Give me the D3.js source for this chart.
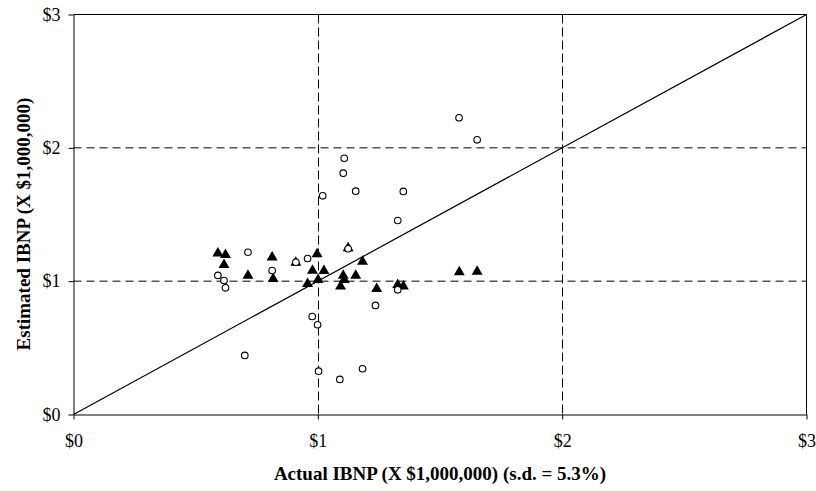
<!DOCTYPE html>
<html>
<head>
<meta charset="utf-8">
<script src="https://cdn.jsdelivr.net/npm/d3@7"></script>
<style>
  html, body { margin: 0; padding: 0; background: #fff; }
  svg { display: block; }
</style>
</head>
<body>
<svg id="chart" width="816" height="491"></svg>
<script>
// Axis ticks (millions of dollars)
const xTicks = [0, 1, 2, 3];
const yTicks = [0, 1, 2, 3];
const tickLabels = ["$0", "$1", "$2", "$3"];
const xTitle = "Actual IBNP (X $1,000,000) (s.d. = 5.3%)";
const yTitle = "Estimated IBNP (X $1,000,000)";

// Series 1: open circles (actual, estimated)
const circleActual = [0.591, 0.616, 0.622, 0.714, 0.813, 0.910, 0.958, 1.124, 1.108, 1.104, 1.155, 1.020,
  0.977, 0.999, 1.236, 1.003, 1.090, 1.183, 0.701, 1.578, 1.652, 1.350, 1.327, 1.327];
const circleEstimated = [1.043, 1.005, 0.950, 1.217, 1.080, 1.142, 1.170, 1.243, 1.922, 1.810, 1.675, 1.640,
  0.735, 0.673, 0.818, 0.325, 0.263, 0.343, 0.443, 2.225, 2.060, 1.673, 1.455, 0.935];

// Series 2: filled triangles (actual, estimated)
const triActual = [0.591, 0.622, 0.616, 0.714, 0.813, 0.817, 0.910, 0.997, 0.978, 1.025, 0.958, 1.001,
  1.124, 1.104, 1.108, 1.155, 1.093, 1.183, 1.241, 1.327, 1.350, 1.579, 1.652];
const triEstimated = [1.217, 1.205, 1.130, 1.050, 1.187, 1.025, 1.147, 1.210, 1.087, 1.085, 0.988, 1.018,
  1.255, 1.050, 1.018, 1.050, 0.968, 1.155, 0.950, 0.980, 0.968, 1.075, 1.080];

// Reference line y = x
const diagonal = [0, 3];

const svg = d3.select("#chart");
const mLeft = 73.5, mRight = 806.5, mTop = 14.5, mBottom = 414.5;

const x = d3.scaleLinear().domain([0, 3]).range([mLeft, mRight]);
const y = d3.scaleLinear().domain([0, 3]).range([mBottom, mTop]);

const serif = "'Liberation Serif', 'Times New Roman', serif";

// Gridlines (dashed) at interior ticks
const g = svg.append("g");
g.selectAll(".vgrid").data(xTicks.slice(1, -1)).enter().append("line")
  .attr("x1", d => Math.round(x(d)) + 0.5).attr("x2", d => Math.round(x(d)) + 0.5)
  .attr("y1", mTop).attr("y2", mBottom)
  .attr("stroke", "#000").attr("stroke-width", 1).attr("stroke-dasharray", "9,4");
g.selectAll(".hgrid").data(yTicks.slice(1, -1)).enter().append("line")
  .attr("x1", mLeft).attr("x2", mRight)
  .attr("y1", d => y(d)).attr("y2", d => y(d))
  .attr("stroke", "#000").attr("stroke-width", 1).attr("stroke-dasharray", "8,5");

// Top and right frame
svg.append("line").attr("x1", mLeft).attr("x2", mRight).attr("y1", mTop).attr("y2", mTop)
  .attr("stroke", "#000").attr("stroke-width", 1);
svg.append("line").attr("x1", mRight).attr("x2", mRight).attr("y1", mTop).attr("y2", mBottom)
  .attr("stroke", "#000").attr("stroke-width", 1);

// Axes
const xAxis = d3.axisBottom(x).tickValues(xTicks).tickFormat((d, i) => tickLabels[i])
  .tickSizeInner(5).tickSizeOuter(0).tickPadding(15);
const yAxis = d3.axisLeft(y).tickValues(yTicks).tickFormat((d, i) => tickLabels[i])
  .tickSizeInner(5).tickSizeOuter(0).tickPadding(8);

const gx = svg.append("g").attr("transform", `translate(0,${mBottom})`).call(xAxis);
const gy = svg.append("g").attr("transform", `translate(${mLeft},0)`).call(yAxis);
[gx, gy].forEach(a => {
  a.selectAll("path, line").attr("stroke", "#000").attr("stroke-width", 1);
  a.selectAll("text").attr("font-family", serif).attr("font-size", 18).attr("fill", "#000");
});

// Diagonal line
svg.append("line")
  .attr("x1", x(diagonal[0])).attr("y1", y(diagonal[0]))
  .attr("x2", x(diagonal[1])).attr("y2", y(diagonal[1]))
  .attr("stroke", "#000").attr("stroke-width", 1.2);

// Triangles
const triSym = d3.symbol().type(d3.symbolTriangle).size(52);
svg.append("g").selectAll("path").data(triActual.map((a, i) => [a, triEstimated[i]])).enter()
  .append("path")
  .attr("d", triSym)
  .attr("transform", d => `translate(${x(d[0])},${y(d[1]) + 1})`)
  .attr("fill", "#000");

// Circles
svg.append("g").selectAll("circle").data(circleActual.map((a, i) => [a, circleEstimated[i]])).enter()
  .append("circle")
  .attr("cx", d => x(d[0])).attr("cy", d => y(d[1]))
  .attr("r", 3.3)
  .attr("fill", "#fff").attr("stroke", "#000").attr("stroke-width", 1.1);

// Axis titles
svg.append("text")
  .attr("x", (mLeft + mRight) / 2).attr("y", 480)
  .attr("text-anchor", "middle")
  .attr("font-family", serif).attr("font-weight", "bold").attr("font-size", 19)
  .text(xTitle);

svg.append("text")
  .attr("transform", `translate(30,224) rotate(-90)`)
  .attr("text-anchor", "middle")
  .attr("font-family", serif).attr("font-weight", "bold").attr("font-size", 19)
  .text(yTitle);
</script>
</body>
</html>
